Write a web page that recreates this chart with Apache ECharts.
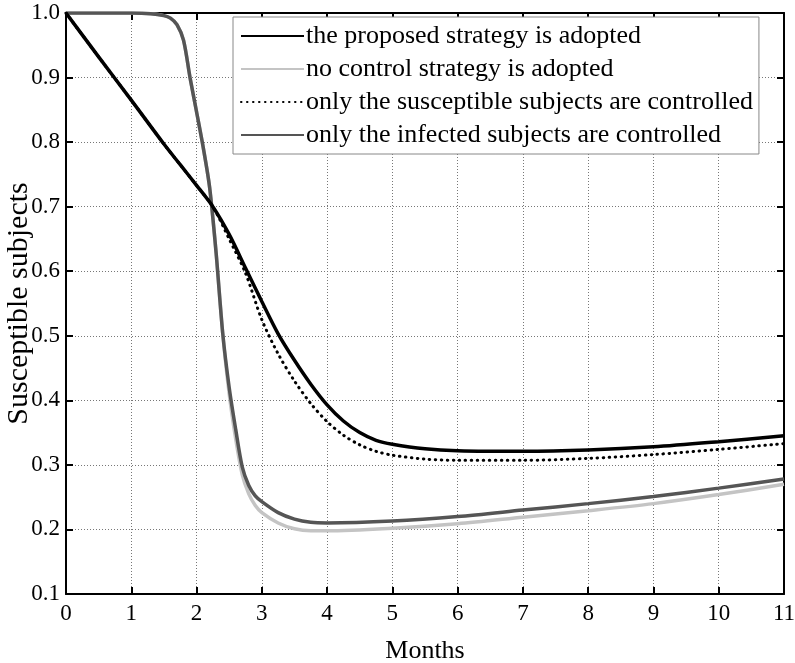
<!DOCTYPE html>
<html>
<head>
<meta charset="utf-8">
<script src="https://cdn.jsdelivr.net/npm/echarts@6/dist/echarts.min.js"></script>
<style>
  html, body { margin: 0; padding: 0; background: #fff; }
  #main { width: 795px; height: 663px; }
</style>
</head>
<body>
<div id="main"></div>
<script>
// data
var seriesNames = [
  'the proposed strategy is adopted',
  'no control strategy is adopted',
  'only the susceptible subjects are controlled',
  'only the infected subjects are controlled'
];

var proposedX = [0, 0.5, 1, 1.5, 1.75, 2, 2.25, 2.5, 2.75, 3, 3.25, 3.5, 3.75, 4, 4.25, 4.5, 4.75, 5, 5.5, 6, 7, 8, 9, 10, 11];
var proposedY = [1.0, 0.932, 0.865, 0.797, 0.765, 0.733, 0.70, 0.657, 0.605, 0.553, 0.503, 0.462, 0.425, 0.393, 0.368, 0.35, 0.338, 0.332, 0.325, 0.322, 0.321, 0.323, 0.328, 0.336, 0.345];

var suscX = [0, 0.5, 1, 1.5, 1.75, 2, 2.25, 2.5, 2.75, 3, 3.25, 3.5, 3.75, 4, 4.25, 4.5, 4.75, 5, 5.5, 6, 7, 8, 9, 10, 11];
var suscY = [1.0, 0.932, 0.865, 0.797, 0.765, 0.733, 0.70, 0.65, 0.597, 0.525, 0.472, 0.43, 0.395, 0.367, 0.346, 0.331, 0.321, 0.315, 0.309, 0.307, 0.307, 0.31, 0.316, 0.324, 0.333];

var infectedX = [0, 1.0, 1.3, 1.5, 1.6, 1.7, 1.8, 1.9, 2.0, 2.1, 2.2, 2.3, 2.4, 2.5, 2.6, 2.7, 2.8, 2.9, 3.0, 3.25, 3.5, 3.75, 4, 5, 6, 7, 8, 9, 10, 11];
var infectedY = [1.0, 1.0, 0.999, 0.996, 0.992, 0.982, 0.958, 0.9, 0.847, 0.793, 0.73, 0.628, 0.505, 0.42, 0.355, 0.297, 0.268, 0.252, 0.243, 0.226, 0.216, 0.211, 0.21, 0.213, 0.22, 0.23, 0.24, 0.251, 0.264, 0.278];

var noneX = [0, 1.0, 1.3, 1.5, 1.6, 1.7, 1.8, 1.9, 2.0, 2.1, 2.2, 2.3, 2.4, 2.5, 2.6, 2.7, 2.8, 2.9, 3.0, 3.25, 3.5, 3.75, 4, 5, 6, 7, 8, 9, 10, 11];
var noneY = [1.0, 1.0, 0.999, 0.996, 0.992, 0.982, 0.958, 0.9, 0.847, 0.793, 0.73, 0.628, 0.505, 0.41, 0.34, 0.285, 0.255, 0.237, 0.226, 0.21, 0.201, 0.198, 0.198, 0.202, 0.209, 0.219, 0.229, 0.24, 0.254, 0.27];

var font = 'Liberation Serif';

function pairs(xs, ys) {
  return xs.map(function (x, i) { return [x, ys[i]]; });
}

var chart = echarts.init(document.getElementById('main'));

var gridLine = { show: true, lineStyle: { color: '#777', type: [1, 2], width: 1 } };

chart.setOption({
  backgroundColor: '#fff',
  animation: false,
  grid: { left: 66, right: 11, top: 13, bottom: 69, outerBoundsMode: 'none' },
  legend: {
    orient: 'vertical',
    left: 233,
    top: 17,
    padding: [4, 6, 4, 7],
    itemWidth: 63,
    itemHeight: 14,
    itemGap: 3,
    borderColor: '#888',
    borderWidth: 1,
    backgroundColor: '#fff',
    itemStyle: { opacity: 0 },
    data: [seriesNames[0], seriesNames[1], seriesNames[2], seriesNames[3]],
    textStyle: { fontFamily: font, fontSize: 26, color: '#000', lineHeight: 30, padding: [0, 0, 0, -3] }
  },
  xAxis: [{
    type: 'value',
    min: 0, max: 11, interval: 1,
    name: 'Months',
    nameLocation: 'middle',
    nameGap: 44,
    nameMoveOverlap: false,
    nameTextStyle: { fontFamily: font, fontSize: 26, color: '#000' },
    axisLine: { show: true, onZero: false, lineStyle: { color: '#000', width: 2 } },
    axisTick: { show: true, inside: true, length: 7, lineStyle: { color: '#000', width: 2 } },
    axisLabel: { fontFamily: font, fontSize: 23, color: '#000', margin: 8 },
    splitLine: gridLine
  }, {
    type: 'value',
    position: 'top',
    min: 0, max: 11, interval: 1,
    axisLine: { show: true, onZero: false, lineStyle: { color: '#000', width: 2 } },
    axisTick: { show: true, inside: true, length: 7, lineStyle: { color: '#000', width: 2 } },
    axisLabel: { show: false },
    splitLine: { show: false }
  }],
  yAxis: [{
    type: 'value',
    min: 0.1, max: 1.0, interval: 0.1,
    name: 'Susceptible subjects',
    nameLocation: 'middle',
    nameGap: 32,
    nameMoveOverlap: false,
    nameTextStyle: { fontFamily: font, fontSize: 30, color: '#000' },
    axisLine: { show: true, onZero: false, lineStyle: { color: '#000', width: 2 } },
    axisTick: { show: true, inside: true, length: 7, lineStyle: { color: '#000', width: 2 } },
    axisLabel: {
      fontFamily: font, fontSize: 23, color: '#000', margin: 6,
      formatter: function (v) { return v.toFixed(1); }
    },
    splitLine: gridLine
  }, {
    type: 'value',
    position: 'right',
    min: 0.1, max: 1.0, interval: 0.1,
    axisLine: { show: true, onZero: false, lineStyle: { color: '#000', width: 2 } },
    axisTick: { show: true, inside: true, length: 7, lineStyle: { color: '#000', width: 2 } },
    axisLabel: { show: false },
    splitLine: { show: false }
  }],
  series: [{
    name: seriesNames[1],
    type: 'line',
    data: pairs(noneX, noneY),
    smooth: 0.3,
    symbol: 'none',
    z: 2,
    itemStyle: { color: '#c4c4c4' },
    lineStyle: { color: '#c4c4c4', width: 3.5 }
  }, {
    name: seriesNames[3],
    type: 'line',
    data: pairs(infectedX, infectedY),
    smooth: 0.3,
    symbol: 'none',
    z: 3,
    itemStyle: { color: '#555' },
    lineStyle: { color: '#555', width: 3.5 }
  }, {
    name: seriesNames[2],
    type: 'line',
    data: pairs(suscX, suscY),
    smooth: 0.3,
    symbol: 'none',
    z: 4,
    itemStyle: { color: '#000' },
    lineStyle: { color: '#000', width: 3, type: [0.5, 5.5], cap: 'round' }
  }, {
    name: seriesNames[0],
    type: 'line',
    data: pairs(proposedX, proposedY),
    smooth: 0.3,
    symbol: 'none',
    z: 5,
    itemStyle: { color: '#000' },
    lineStyle: { color: '#000', width: 3.5 }
  }]
});
</script>
</body>
</html>
